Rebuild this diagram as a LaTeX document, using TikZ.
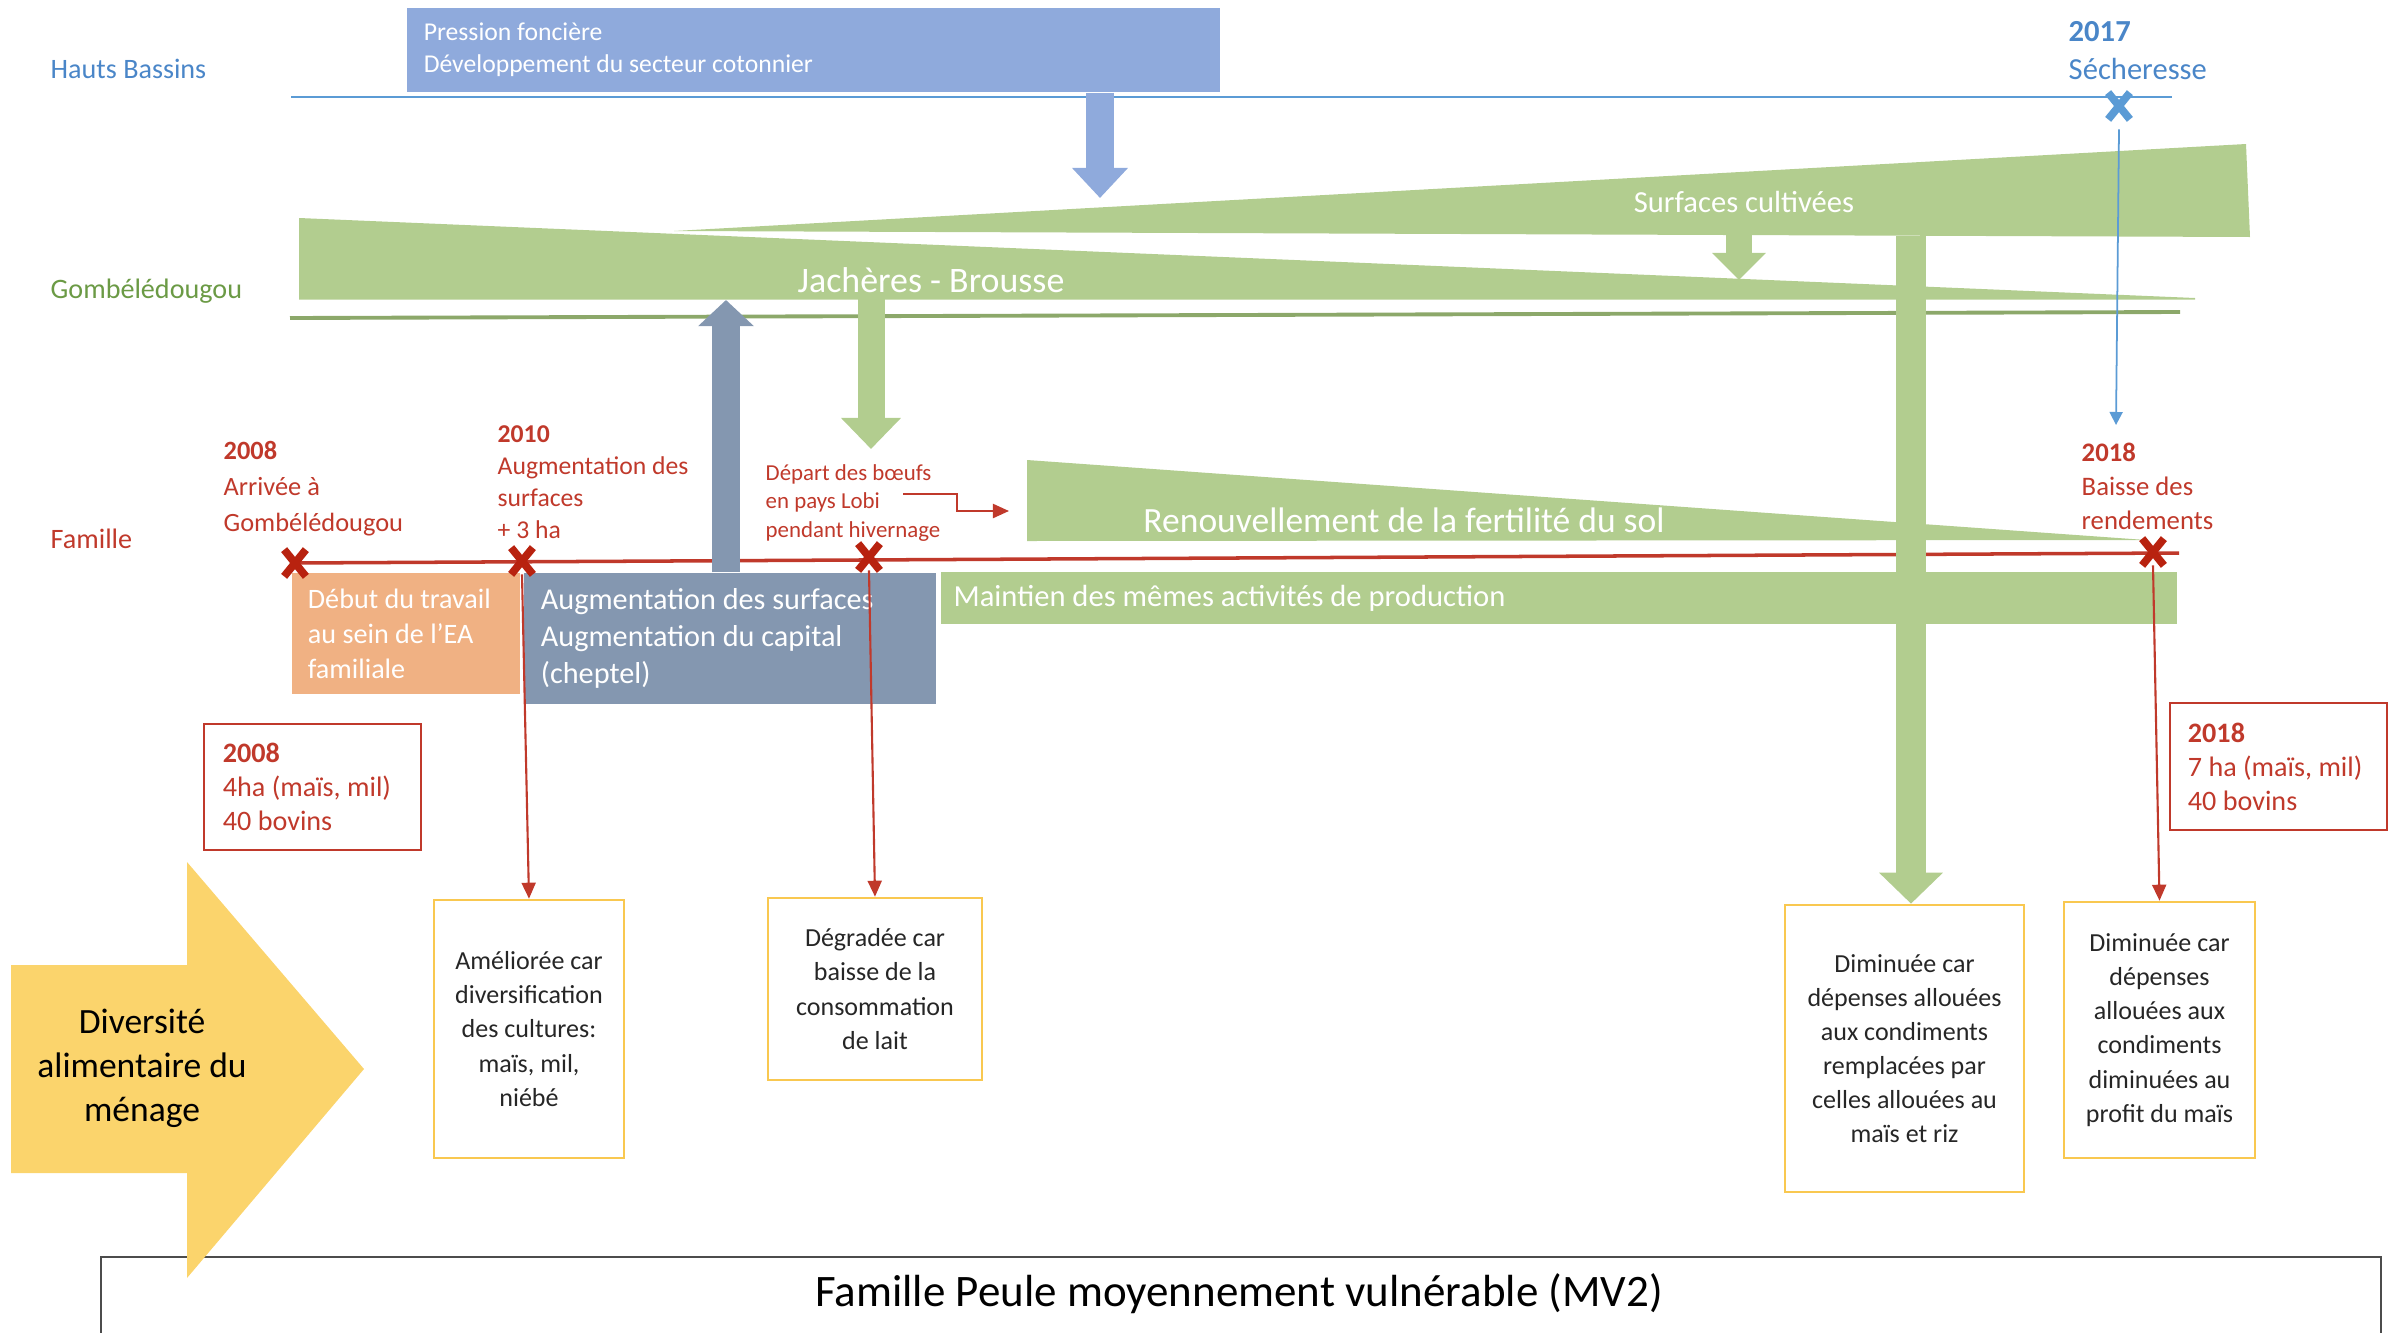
\documentclass[tikz,border=0pt]{standalone}
\usepackage{fontspec}
\setmainfont{Carlito}
\usetikzlibrary{arrows.meta,shapes.misc}

\definecolor{hbblue}{HTML}{5B9BD5}
\definecolor{hbtext}{HTML}{4A86C8}
\definecolor{pblue}{HTML}{8FAADC}
\definecolor{vgreen}{HTML}{B2CD8F}
\definecolor{gtext}{HTML}{6B9A45}
\definecolor{gline}{HTML}{8CA86A}
\definecolor{famred}{HTML}{C0392B}
\definecolor{xred}{HTML}{B8220F}
\definecolor{bgrey}{HTML}{8497B0}
\definecolor{orng}{HTML}{F0B183}
\definecolor{yell}{HTML}{FBD46C}
\definecolor{ybord}{HTML}{F9C850}

\tikzset{
    lvl/.style={anchor=west, inner sep=0pt, font=\fontsize{8}{10}\selectfont},
    evt/.style={anchor=west, inner sep=0pt, align=flush left, text=famred},
    evtx/.style={cross out, draw=#1, line width=2.2pt, minimum width=0.14cm, minimum height=0.19cm, inner sep=0pt},
    fbox/.style={rectangle, inner sep=0pt, align=flush left, text=white},
    rbox/.style={draw=famred, line width=0.7pt, align=flush left, text=famred, inner sep=0pt, font=\fontsize{8}{9.7}\selectfont},
    ybox/.style={draw=ybord, line width=0.7pt, align=flush center, inner sep=0pt, text=black!85, font=\fontsize{7.4}{9.7}\selectfont},
    redarrow/.style={famred, line width=0.6pt, -{Triangle[length=0.16cm, width=0.14cm]}},
    wtext/.style={text=white, inner sep=0pt},
}

\begin{document}
\begin{tikzpicture}[x=0.01cm, y=-0.01cm]
    \useasboundingbox (0,0) rectangle (2396,1333);

    \node[lvl, text=hbtext] (hb) at (50,69) {Hauts Bassins};
    \node[lvl, text=gtext] (gb) at (50,291) {Gombélédougou};
    \node[lvl, text=famred] (fam) at (50,539) {Famille};

    \draw[hbblue, line width=0.8pt] (291,97) -- (2172,97);
    \draw[gline, line width=1.1pt] (290,318) -- (2180,312);
    \draw[famred, line width=1pt] (293,563) -- (2179,553);

    \fill[vgreen] (299,218) -- (2195,298) -- (2195,299.5) -- (299,299.5) -- cycle;
    \fill[vgreen] (674,231) -- (2246,144) -- (2250,237) -- cycle;
    \fill[vgreen] (1027,460) -- (2146,540) -- (1027,541) -- cycle;

    \node[fbox, fill=pblue, minimum width=8.13cm, minimum height=0.84cm, text width=7.79cm, font=\fontsize{7.3}{9.1}\selectfont] (press) at (813.5,50) {Pression foncière\\Développement du secteur cotonnier};
    \node[fbox, fill=vgreen, minimum width=12.36cm, minimum height=0.52cm, text width=12.10cm, font=\fontsize{8.7}{10}\selectfont] (maint) at (1559,598) {Maintien des mêmes activités de production};
    \node[fbox, fill=orng, minimum width=2.28cm, minimum height=1.21cm, text width=1.96cm, font=\fontsize{8}{10}\selectfont] (debut) at (406,633.5) {Début du travail\\au sein de l’EA\\familiale};
    \node[fbox, fill=bgrey, minimum width=4.12cm, minimum height=1.31cm, text width=3.78cm, font=\fontsize{8.6}{10.5}\selectfont] (capital) at (730,638.5) {Augmentation des surfaces\\Augmentation du capital\\(cheptel)};

    \node[ybox, minimum width=1.90cm, minimum height=2.58cm] (y1) at (529,1029) {Améliorée car\\diversification\\des cultures:\\maïs, mil,\\niébé};
    \node[ybox, minimum width=2.14cm, minimum height=1.82cm] (y2) at (875,989) {Dégradée car\\baisse de la\\consommation\\de lait};
    \node[ybox, minimum width=2.39cm, minimum height=2.87cm] (y3) at (1904.5,1048.5) {Diminuée car\\dépenses allouées\\aux condiments\\remplacées par\\celles allouées au\\maïs et riz};
    \node[ybox, minimum width=1.91cm, minimum height=2.56cm] (y4) at (2159.5,1030) {Diminuée car\\dépenses\\allouées aux\\condiments\\diminuées au\\profit du maïs};

    \coordinate (presdn) at (1100,198);
    \coordinate (surfdn) at (1739,234);
    \coordinate (jachup) at (1739,280);
    \coordinate (surfbig) at (1911,236);
    \coordinate (jachdn) at (871,299);
    \coordinate (lobiup) at (871,449);
    \coordinate (gomb) at (726,300);
    \draw[pblue, line width=0.28cm, -{Triangle[length=0.30cm, width=0.54cm]}] (press.south -| presdn) -- (presdn);
    \draw[vgreen, line width=0.26cm, -{Triangle[length=0.27cm, width=0.52cm]}] (surfdn) -- (jachup);
    \draw[vgreen, line width=0.27cm, -{Triangle[length=0.31cm, width=0.58cm]}] (jachdn) -- (lobiup);
    \draw[vgreen, line width=0.30cm, -{Triangle[length=0.31cm, width=0.62cm]}] (surfbig) -- (surfbig |- y3.north);
    \draw[bgrey, line width=0.28cm, -{Triangle[length=0.26cm, width=0.54cm]}] (capital.north -| gomb) -- (gomb);

    \node[wtext, font=\fontsize{8.7}{10}\selectfont] (surf) at (1744,202) {Surfaces cultivées};
    \node[wtext, font=\fontsize{10.2}{12}\selectfont] (jach) at (931,280) {Jachères - Brousse};
    \node[wtext, font=\fontsize{10.1}{12}\selectfont] (renouv) at (1404,520) {Renouvellement de la fertilité du sol};

    \node[evt, text=hbtext, font=\fontsize{8.7}{10.8}\selectfont] (sech) at (2068,51) {\textbf{2017}\\Sécheresse};
    \node[evt, font=\fontsize{7.5}{10.2}\selectfont] (e08) at (223,489) {\textbf{2008}\\Arrivée à\\Gombélédougou};
    \node[evt, font=\fontsize{7.3}{9.1}\selectfont] (e10) at (497,482) {\textbf{2010}\\Augmentation des\\surfaces\\+ 3 ha};
    \node[evt, font=\fontsize{6.5}{8.2}\selectfont] (dep) at (765,503) {Départ des bœufs\\en pays Lobi\\pendant hivernage};
    \node[evt, font=\fontsize{7.6}{9.7}\selectfont] (e18) at (2081,486) {\textbf{2018}\\Baisse des\\rendements};

    \node[rbox, minimum width=2.17cm, minimum height=1.26cm, text width=1.79cm] (b08) at (312.5,787) {\textbf{2008}\\4ha (maïs, mil)\\40 bovins};
    \node[rbox, minimum width=2.17cm, minimum height=1.27cm, text width=1.81cm] (b18) at (2278.5,766.5) {\textbf{2018}\\7 ha (maïs, mil)\\40 bovins};

    \node[evtx=hbblue] (c17) at (2119,106) {};
    \node[evtx=xred] (c08) at (295,563) {};
    \node[evtx=xred] (c10) at (522,561) {};
    \node[evtx=xred] (cdep) at (869,557) {};
    \node[evtx=xred] (c18) at (2153,552) {};

    \coordinate (baisse) at (2116,425);
    \coordinate (lobi) at (903,494);
    \coordinate (renl) at (1009,511);
    \draw[hbblue, line width=0.5pt, -{Triangle[length=0.13cm, width=0.13cm]}] (c17.south) ++(0,10) -- (baisse);
    \draw[redarrow] (lobi) -- ++(54,0) |- (renl);
    \draw[redarrow] (c10.south) -- (y1.north);
    \draw[redarrow] (cdep.south) -- (y2.north);
    \draw[redarrow] (c18.south) -- (y4.north);

    \draw[black!70, line width=0.7pt] (101,1333) -- (101,1257) -- (2381,1257) -- (2381,1333);
    \node[inner sep=0pt, font=\fontsize{12.8}{14}\selectfont] (famp) at (1239,1294) {Famille Peule moyennement vulnérable (MV2)};

    \fill[yell] (11,965) -- (187,965) -- (187,862) -- (364,1069) -- (187,1278) -- (187,1173) -- (11,1173) -- cycle;
    \node[inner sep=0pt, align=flush center, font=\fontsize{10.1}{12.5}\selectfont] (div) at (142,1068) {Diversité\\alimentaire du\\ménage};
\end{tikzpicture}
\end{document}
